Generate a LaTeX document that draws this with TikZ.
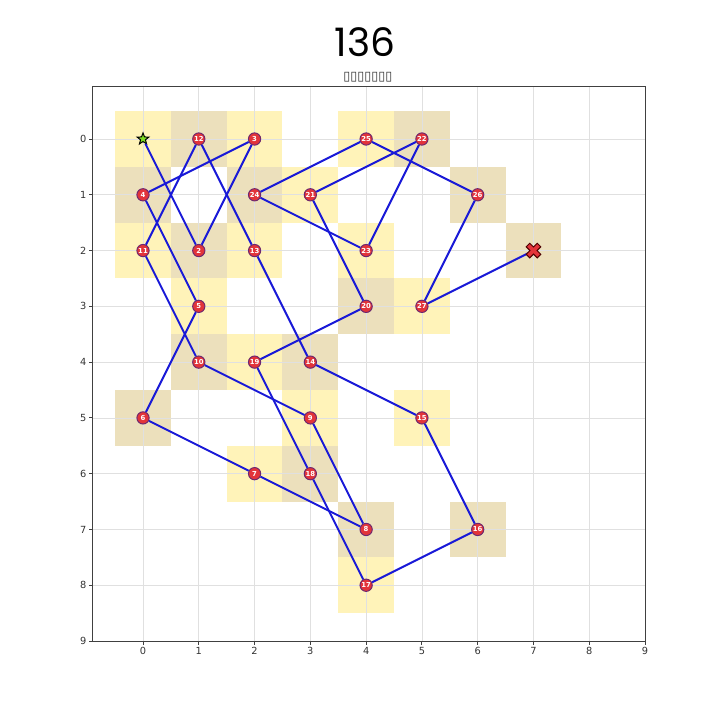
\documentclass[tikz,border=0pt]{standalone}
\usepackage{fontspec}
\setmainfont{DejaVu Sans}
\newfontfamily\titlefont{Poppins}
\usetikzlibrary{shapes.geometric}
\definecolor{cellA}{RGB}{255,243,185}
\definecolor{cellB}{RGB}{236,224,188}
\definecolor{tourblue}{RGB}{25,25,215}
\definecolor{nodered}{RGB}{226,52,58}
\definecolor{nodeedge}{RGB}{110,40,110}
\definecolor{gridgray}{RGB}{224,224,224}
\definecolor{startgreen}{RGB}{125,220,35}
\tikzset{
  sq/.style={circle,draw=nodeedge,fill=nodered,line width=0.5pt,minimum size=0.22cm,inner sep=0pt,text=white,font=\fontsize{3.5}{3.5}\selectfont\bfseries},
  startmark/.style={star,star points=5,star point ratio=2.4,draw=black,fill=startgreen,line width=0.5pt,minimum size=0.22cm,inner sep=0pt},
  endmark/.style={circle,minimum size=0.2cm,inner sep=0pt},
  tour/.style={tourblue,line width=1pt},
  gridline/.style={gridgray,line width=0.4pt},
  frame/.style={black!75,line width=0.5pt},
  ticklbl/.style={font=\fontsize{5}{6}\selectfont,text=black!80,inner sep=1.2pt},
}

\begin{document}
\begin{tikzpicture}[x=1cm,y=-1cm]
\useasboundingbox (-2.564,-2.492) rectangle (10.344,10.416);
% visited squares, coloured by parity
\foreach \cx/\cy in {0/0,1/2,2/0,0/1,1/3,0/5,2/6,4/7,3/5,1/4,0/2,1/0,2/2,3/4,5/5,6/7,4/8,3/6,2/4,4/3,3/1,5/0,4/2,2/1,4/0,6/1,5/3,7/2} {
  \pgfmathtruncatemacro\parity{mod(\cx+\cy,2)}
  \ifnum\parity=0 \fill[cellA] (\cx-0.5,\cy-0.5) rectangle (\cx+0.5,\cy+0.5);
  \else \fill[cellB] (\cx-0.5,\cy-0.5) rectangle (\cx+0.5,\cy+0.5); \fi
}
% grid and axes
\foreach \k in {0,...,9} {
  \draw[gridline] (\k,-0.95) -- (\k,9);
  \draw[gridline] (-0.9,\k) -- (9,\k);
}
\draw[frame] (-0.9,-0.95) rectangle (9,9);
\foreach \k in {0,...,9} {
  \draw[frame] (-0.9,\k) -- (-0.963,\k) node[left,ticklbl] {\k};
  \draw[frame] (\k,9) -- (\k,9.063) node[below,ticklbl] {\k};
}
\node[font=\titlefont\fontsize{20}{22}\selectfont] (title) at (3.98,-1.74) {136};
\node[font=\fontsize{6.5}{7}\selectfont,text=black!80] (subtitle) at (4.03,-1.11) {▯▯▯▯▯▯▯};
% tour
\node[startmark] (n1) at (0,0) {};
\foreach \i/\cx/\cy in {2/1/2,3/2/0,4/0/1,5/1/3,6/0/5,7/2/6,8/4/7,9/3/5,10/1/4,11/0/2,12/1/0,13/2/2,14/3/4,15/5/5,16/6/7,17/4/8,18/3/6,19/2/4,20/4/3,21/3/1,22/5/0,23/4/2,24/2/1,25/4/0,26/6/1,27/5/3}
  \node[sq] (n\i) at (\cx,\cy) {\i};
\node[endmark] (n28) at (7,2) {};
\foreach \i [evaluate=\i as \j using int(\i+1)] in {1,...,27}
  \draw[tour] (n\i) -- (n\j);
\begin{scope}[shift={(n28)},rotate=45]
  \filldraw[fill=nodered,draw=black!70!red,line width=0.5pt] (0.045,0.045) -- (0.045,0.14) -- (-0.045,0.14) -- (-0.045,0.045) -- (-0.14,0.045) -- (-0.14,-0.045) -- (-0.045,-0.045) -- (-0.045,-0.14) -- (0.045,-0.14) -- (0.045,-0.045) -- (0.14,-0.045) -- (0.14,0.045) -- cycle;
\end{scope}
\end{tikzpicture}
\end{document}
